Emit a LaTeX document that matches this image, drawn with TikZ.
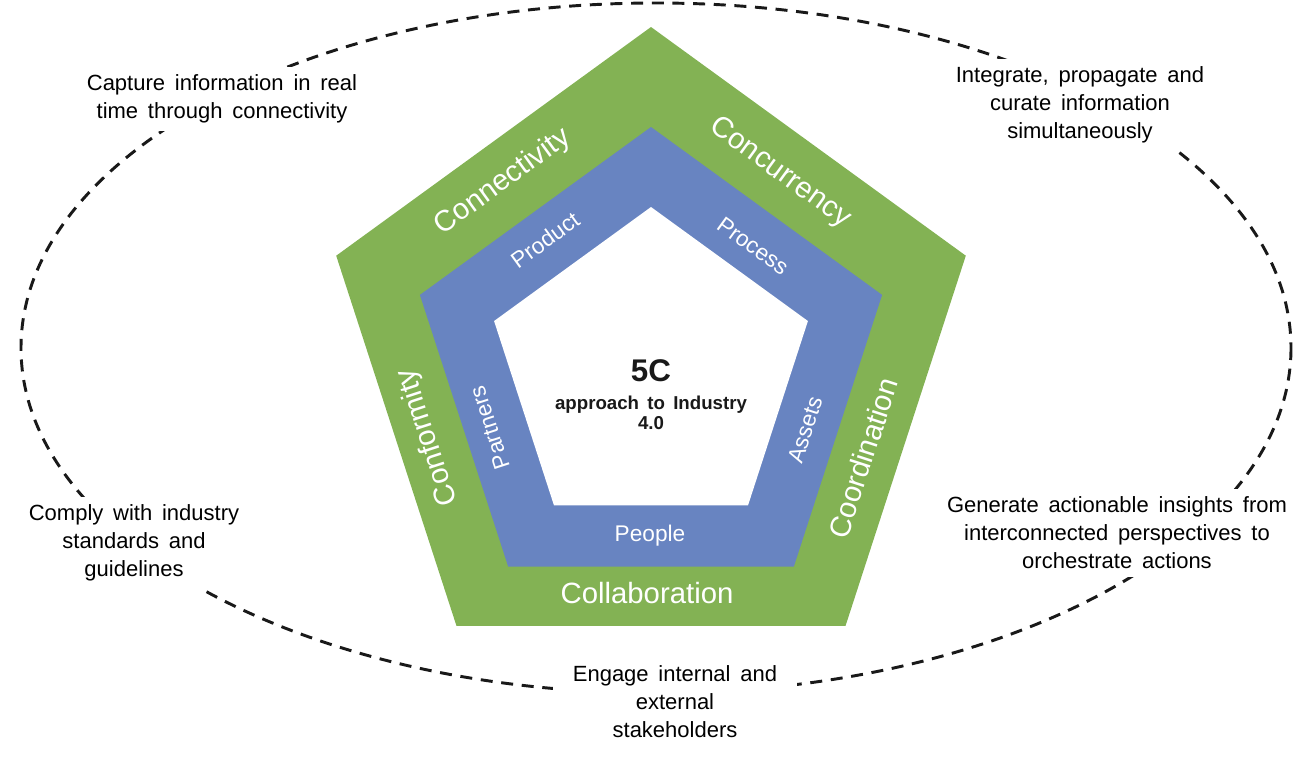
\documentclass[tikz,border=0pt]{standalone}
\usepackage{fontspec}
\setmainfont{Liberation Sans}
\newfontfamily\widesans[WordSpace=1.6]{Liberation Sans}
\definecolor{pgreen}{RGB}{131,178,84}
\definecolor{pblue}{RGB}{104,132,193}
\begin{document}
\begin{tikzpicture}[x=0.75pt,y=-0.75pt,
  outer/.style={font=\widesans\fontsize{16.5}{21}\selectfont, align=center, fill=white, inner xsep=15pt, inner ysep=6pt, text=black},
  cword/.style={font=\fontsize{22}{26}\selectfont, text=white, inner sep=0pt},
  pword/.style={font=\fontsize{17}{20}\selectfont, text=white, inner sep=0pt},
  ring/.style={line width=2.2pt, dash pattern=on 9pt off 6.5pt, draw=black!90}
]
\useasboundingbox (0,0) rectangle (1311,757);
% dashed ellipse
\draw[ring] (656,348) ellipse [x radius=635, y radius=345];
% pentagon vertices
\foreach \a [count=\i] in {-90,-18,54,126,198} {
  \coordinate (g\i) at ([shift={(651,358)}]\a:331);
  \coordinate (b\i) at ([shift={(651,370)}]\a:243);
  \coordinate (w\i) at ([shift={(651,372)}]\a:165);
}
\fill[pgreen] (g1)--(g2)--(g3)--(g4)--(g5)--cycle;
\fill[pblue] (b1)--(b2)--(b3)--(b4)--(b5)--cycle;
\fill[white] (w1)--(w2)--(w3)--(w4)--(w5)--cycle;
% green band labels
\node[cword, rotate=36] (connectivity) at (503,182) {Connectivity};
\node[cword, rotate=-36] (concurrency) at (780,173) {Concurrency};
\node[cword, rotate=72] (coordination) at (863,458) {Coordination};
\node[cword] (collaboration) at (647,593) {Collaboration};
\node[cword, rotate=108] (conformity) at (428,437) {Conformity};
% blue band labels
\node[pword, rotate=36] (product) at (545,240) {Product};
\node[pword, rotate=-36] (process) at (753,246) {Process};
\node[pword, rotate=72] (assets) at (805,430) {Assets};
\node[pword] (people) at (650,536) {People};
\node[pword, rotate=108] (partners) at (490,428) {Partners};
% centre
\node[font=\bfseries\fontsize{23.5}{26}\selectfont, text=black!90, inner sep=0pt] (fivec) at (651,371) {5C};
\node[font=\widesans\bfseries\fontsize{14}{15}\selectfont, align=center, text=black!90, inner sep=0pt] (approach) at (651,413) {approach to Industry\\4.0};
% outer texts
\node[outer] (capture) at (222,99) {Capture information in real\\time through connectivity};
\node[outer] (integrate) at (1080,105) {Integrate, propagate and\\curate information\\simultaneously};
\node[outer] (comply) at (134,543) {Comply with industry\\standards and\\guidelines};
\node[outer] (engage) at (675,702) {Engage internal and\\external\\stakeholders};
\node[outer] (generate) at (1117,533) {Generate actionable insights from\\interconnected perspectives to\\orchestrate actions};
\end{tikzpicture}
\end{document}
